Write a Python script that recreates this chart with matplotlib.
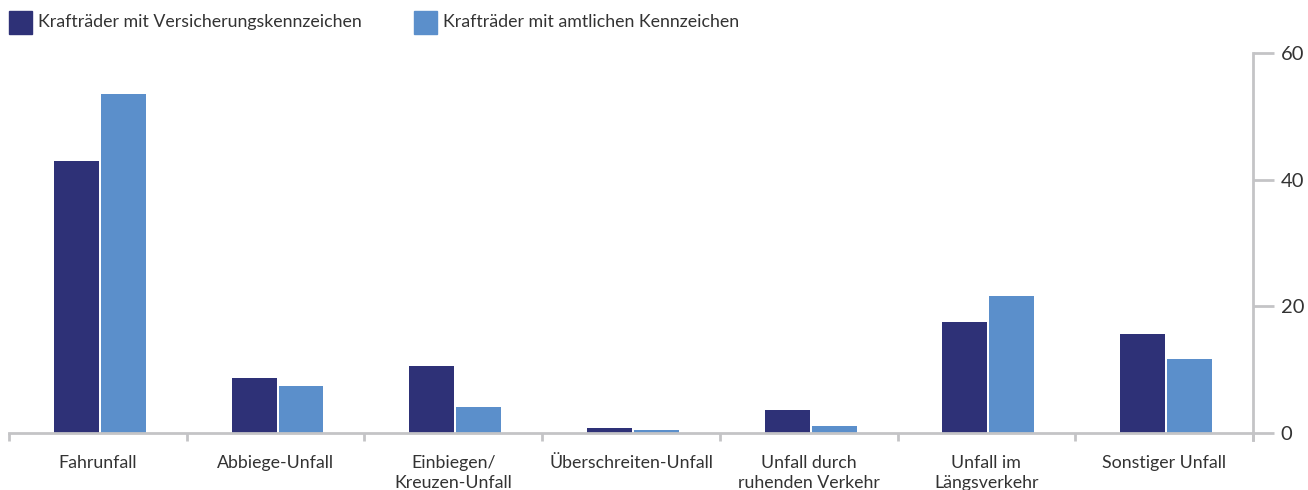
import numpy as np
import matplotlib
matplotlib.use("Agg")
import matplotlib.pyplot as plt
from matplotlib.patches import Rectangle

categories = ["Fahrunfall", "Abbiege-Unfall", "Einbiegen/\nKreuzen-Unfall",
              "Überschreiten-Unfall", "Unfall durch\nruhenden Verkehr",
              "Unfall im\nLängsverkehr", "Sonstiger Unfall"]
versicherung = [42.9, 8.7, 10.6, 0.8, 3.6, 17.5, 15.6]
amtlich = [53.5, 7.4, 4.1, 0.5, 1.1, 21.6, 11.7]
series_names = ["Krafträder mit Versicherungskennzeichen",
                "Krafträder mit amtlichen Kennzeichen"]
yticks = [0, 20, 40, 60]

dark = "#2e3177"
light = "#5b8fcb"
grey = "#c4c4c6"
txt = "#333333"

plt.rcParams['font.family'] = ['Lato', 'DejaVu Sans']

W, H = 1308, 490
fig = plt.figure(figsize=(W / 100, H / 100), dpi=100)
ax = fig.add_axes([9 / W, 1 - 433 / H, (1253 - 9) / W, (433 - 53) / H])

x = np.arange(len(categories))
bw = 0.253
ax.bar(x - 0.121, versicherung, bw, color=dark, zorder=2)
ax.bar(x + 0.143, amtlich, bw, color=light, zorder=2)

ax.set_xlim(-0.5, len(categories) - 0.5)
ax.set_ylim(0, 60)

for s in ["top", "left"]:
    ax.spines[s].set_visible(False)
for s in ["bottom", "right"]:
    ax.spines[s].set_color(grey)
    ax.spines[s].set_linewidth(2)
ax.spines["right"].set_bounds(-1.1, 60)

ax.yaxis.tick_right()
ax.set_yticks(yticks)
ax.tick_params(axis="y", which="major", length=15, width=2, color=grey,
               labelsize=14.5, labelcolor=txt, pad=5)

ax.set_xticks(x)
ax.set_xticklabels(categories, fontsize=12.8, color=txt, linespacing=1.3)
ax.tick_params(axis="x", which="major", length=0, pad=16)
ax.set_xticks(np.arange(-0.5, len(categories)), minor=True)
ax.tick_params(axis="x", which="minor", length=6, width=2, color=grey)

# legend
leg_x = [9, 414]
for lx, name, col in zip(leg_x, series_names, [dark, light]):
    fig.add_artist(Rectangle((lx / W, 1 - 34 / H), 23 / W, 23 / H,
                             transform=fig.transFigure, color=col))
    fig.text((lx + 29) / W, 1 - 22 / H, name, fontsize=12.8, color=txt,
             va="center", ha="left")

fig.savefig("out.png", dpi=100)
